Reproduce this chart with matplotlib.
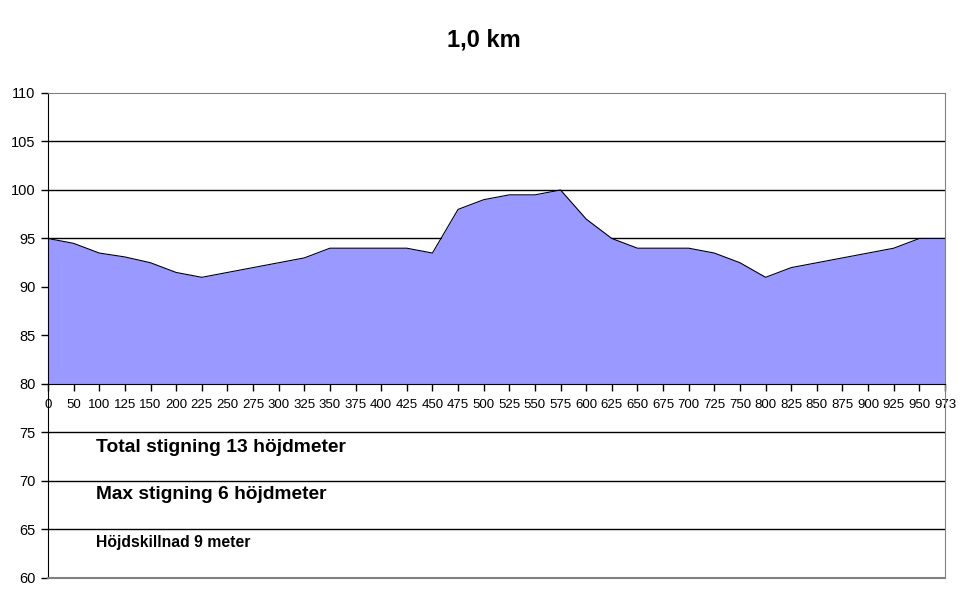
import matplotlib
matplotlib.use("Agg")
import matplotlib.pyplot as plt
import numpy as np

plt.rcParams['font.family'] = ['Liberation Sans', 'DejaVu Sans']

title = "1,0 km"
distances = ["0", "50", "100", "125", "150", "200", "225", "250", "275", "300",
             "325", "350", "375", "400", "425", "450", "475", "500", "525", "550",
             "575", "600", "625", "650", "675", "700", "725", "750", "800", "825",
             "850", "875", "900", "925", "950", "973"]
elevation = [95, 94.5, 93.5, 93.1, 92.5, 91.5, 91, 91.5, 92, 92.5,
             93, 94, 94, 94, 94, 93.5, 98, 99, 99.5, 99.5,
             100, 97, 95, 94, 94, 94, 93.5, 92.5, 91, 92,
             92.5, 93, 93.5, 94, 95, 95]
y_ticks = [60, 65, 70, 75, 80, 85, 90, 95, 100, 105, 110]
notes = ["Total stigning 13 höjdmeter", "Max stigning 6 höjdmeter", "Höjdskillnad 9 meter"]
note_y = [73.5, 68.6, 63.7]

W, H = 971, 605
fig = plt.figure(figsize=(W / 100, H / 100), dpi=100)
ax = fig.add_axes([48 / W, (H - 578) / H, (945 - 48) / W, (578 - 93) / H])

x = np.arange(len(distances))
ax.set_xlim(0, len(distances) - 1)
ax.set_ylim(60, 110)

for v in y_ticks[1:-1]:
    if v != 80:
        ax.axhline(v, color='black', lw=1.0, zorder=1)

ax.fill_between(x, 80, elevation, color='#9999FF', lw=0, zorder=2)
ax.plot(x, elevation, color='black', lw=0.8, zorder=3)

ax.spines['bottom'].set_position(('data', 80))
ax.spines['bottom'].set_color('black')
ax.spines['bottom'].set_zorder(4)
ax.spines['left'].set_color('black')
ax.spines['top'].set_color('#808080')
ax.spines['right'].set_color('#808080')
ax.axhline(60, color='#808080', lw=1.5, clip_on=False, zorder=4)

ax.set_yticks(y_ticks)
ax.set_yticklabels([str(v) for v in y_ticks], fontsize=10.5)
ax.set_xticks(x)
ax.set_xticklabels(distances, fontsize=9.5)
ax.tick_params(axis='both', direction='out', length=5, color='black', width=1)
ax.tick_params(axis='x', pad=6)
ax.tick_params(axis='y', pad=4)

for t, yv, fs in zip(notes, note_y, [13.9, 13.8, 11.3]):
    ax.text(48 / 897, yv, t, transform=ax.get_yaxis_transform(),
            fontsize=fs, fontweight='bold', va='center', ha='left', zorder=5)

fig.text(484 / W, 1 - 40 / H, title, fontsize=17, fontweight='bold', ha='center', va='center')

fig.savefig("out.png", dpi=100)
